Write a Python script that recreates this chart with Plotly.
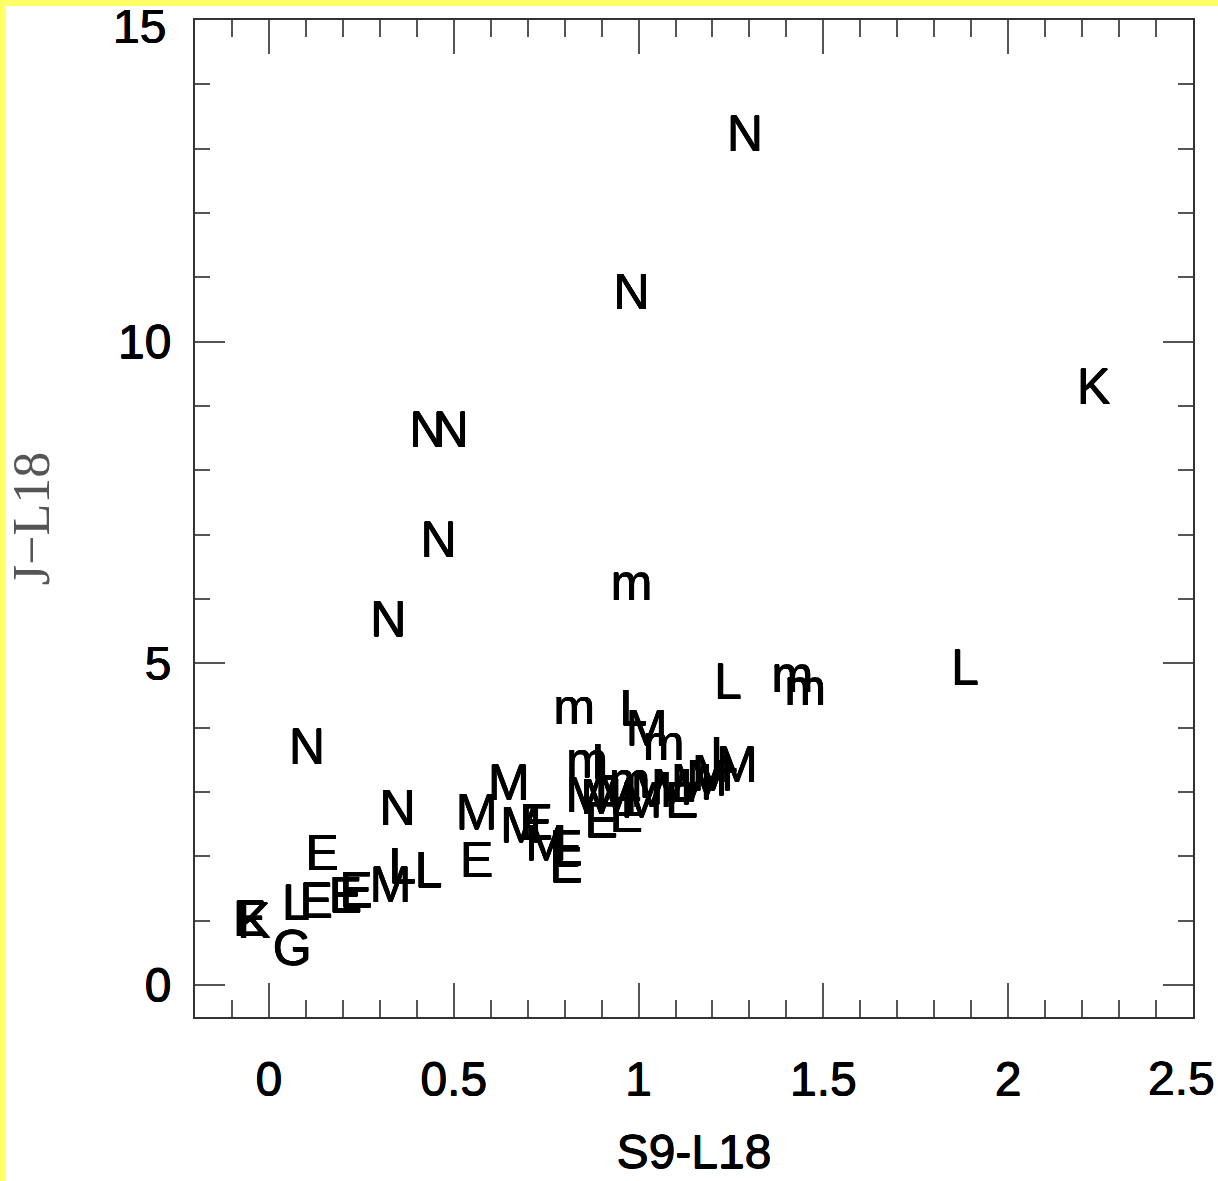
import plotly.graph_objects as go

# Data (S9-L18 vs J-L18, labelled by class letter)
labels = ["N", "N", "K", "N", "N", "N", "m", "N", "L", "L",
          "m", "m", "m", "L", "M", "m", "N", "m", "L", "L",
          "M", "M", "M", "M", "N", "M", "M", "M", "m", "M",
          "M", "M", "M", "E", "E", "M", "E", "M", "E", "M",
          "E", "E", "E", "E", "L", "E", "E", "E", "M", "L",
          "L", "K", "E", "G"]
s9_l18 = [1.288, 0.981, 2.231, 0.429, 0.492, 0.459, 0.981, 0.323, 1.883, 1.242,
          1.416, 1.451, 0.826, 0.986, 1.022, 1.068, 0.103, 0.861, 0.910, 1.231,
          1.266, 1.201, 0.649, 0.562, 0.348, 0.859, 0.899, 0.940, 0.976, 1.035,
          1.090, 1.144, 1.185, 0.899, 0.967, 1.008, 1.117, 0.682, 0.723, 0.750,
          0.804, 0.804, 0.562, 0.144, 0.073, 0.128, 0.207, 0.236, 0.329, 0.361,
          0.432, -0.041, -0.052, 0.063]
j_l18 = [13.16, 10.70, 9.23, 8.56, 8.56, 6.85, 6.18, 5.61, 4.86, 4.64,
         4.75, 4.55, 4.25, 4.23, 3.92, 3.69, 3.63, 3.42, 3.39, 3.50,
         3.35, 3.22, 3.07, 2.61, 2.68, 2.88, 2.85, 2.88, 3.11, 2.96,
         3.00, 3.08, 3.14, 2.49, 2.57, 2.80, 2.80, 2.41, 2.46, 2.13,
         2.05, 1.79, 1.87, 1.98, 1.21, 1.24, 1.32, 1.40, 1.49, 1.77,
         1.71, 0.93, 0.96, 0.50]

x_ticks = [0, 0.5, 1, 1.5, 2, 2.5]
x_ticklabels = ["0", "0.5", "1", "1.5", "2", "2.5"]
y_ticks = [0, 5, 10, 15]
y_ticklabels = ["0", "5", "10", "15"]

BOLDISH = "0.4px 0 0 #000, -0.4px 0 0 #000, 0 0.4px 0 #000, 0 -0.4px 0 #000"
TICK_FONT = dict(family="Liberation Sans", size=48, color="black", shadow=BOLDISH)

fig = go.Figure()
fig.add_trace(go.Scatter(
    x=s9_l18, y=j_l18, mode="text", text=labels,
    textposition="middle center",
    textfont=dict(family="Liberation Sans", size=50, color="black", shadow=BOLDISH),
    hoverinfo="skip", showlegend=False,
))

W, H = 1218, 1181
L, R, T, B = 195, 25, 20, 164
pw, ph = W - L - R, H - T - B

def px2paper_x(px):
    return (px - L) / pw

def px2paper_y(py):
    return (H - B - py) / ph

axis_common = dict(
    showgrid=False, zeroline=False, showline=True, linecolor="#333333",
    linewidth=2, mirror="allticks", ticks="inside", tickcolor="#555555",
    tickwidth=2, tickfont=TICK_FONT,
)

# edge tick labels (would be clipped at the page border) are drawn as annotations
x_axis_text = x_ticklabels[:-1] + [""]
y_axis_text = y_ticklabels[:-1] + [""]

fig.update_layout(
    width=W, height=H,
    margin=dict(l=L, r=R, t=T, b=B),
    paper_bgcolor="white", plot_bgcolor="white",
    xaxis=dict(
        range=[-0.2, 2.5], tickvals=x_ticks, ticktext=x_axis_text,
        ticklen=34, ticklabelstandoff=19,
        minor=dict(dtick=0.1, tick0=0, ticks="inside", ticklen=17,
                   tickcolor="#555555", tickwidth=2, showgrid=False),
        title=dict(text="S9-L18", font=TICK_FONT, standoff=30),
        **axis_common,
    ),
    yaxis=dict(
        range=[-0.5, 15], tickvals=y_ticks, ticktext=y_axis_text,
        ticklen=30, ticklabelstandoff=12,
        minor=dict(dtick=1, tick0=0, ticks="inside", ticklen=15,
                   tickcolor="#555555", tickwidth=2, showgrid=False),
        title=dict(text="J\u2212L18",
                   font=dict(family="Liberation Serif", size=52, color="#555555"),
                   standoff=52),
        **axis_common,
    ),
    annotations=[
        dict(text=y_ticklabels[-1], xref="paper", x=0, xanchor="right",
             xshift=-27, yref="y", y=y_ticks[-1], yanchor="middle",
             yshift=-6, showarrow=False, font=TICK_FONT),
        dict(text=x_ticklabels[-1], xref="x", x=x_ticks[-1], xanchor="right",
             xshift=24, yref="paper", y=0, yanchor="middle",
             yshift=-61, showarrow=False, font=TICK_FONT),
    ],
    shapes=[
        dict(type="rect", xref="paper", yref="paper",
             x0=px2paper_x(0), x1=px2paper_x(6),
             y0=px2paper_y(H), y1=px2paper_y(0),
             fillcolor="#FFFF66", line=dict(width=0), layer="below"),
        dict(type="rect", xref="paper", yref="paper",
             x0=px2paper_x(0), x1=px2paper_x(W),
             y0=px2paper_y(6), y1=px2paper_y(0),
             fillcolor="#FFFF66", line=dict(width=0), layer="below"),
    ],
)

fig.write_html("out.html")
